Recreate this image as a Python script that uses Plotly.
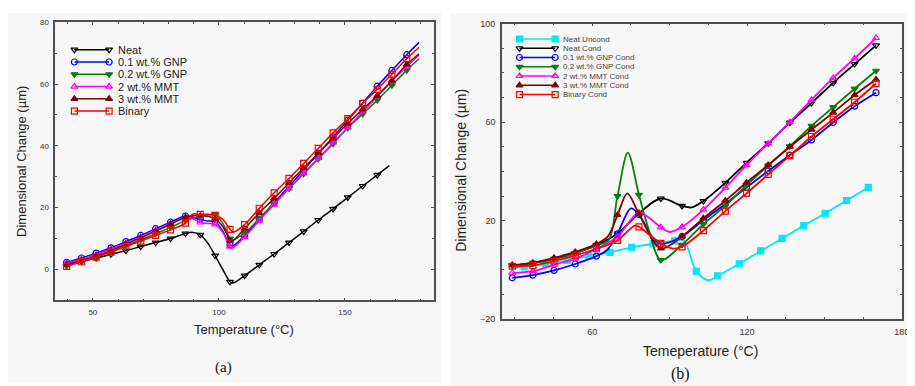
import plotly.graph_objects as go

W, H = 915, 386

# ---------------- Panel (a) data ----------------
A_MARK_T = [39.6, 45.5, 51.3, 57.2, 63.1, 69.0, 74.9, 80.8, 86.7, 92.6, 98.5, 104.4,
            110.2, 116.0, 121.9, 127.8, 133.6, 139.4, 145.3, 151.1, 157.0, 162.8, 168.6, 174.5]

A_NEAT = [1.3, 2.5, 3.7, 4.9, 6.1, 7.4, 8.7, 10.0, 11.6, 11.2, 4.5, -4.0,
          -2.0, 1.5, 5.0, 8.7, 12.3, 16.0, 19.6, 23.3, 27.0, 30.6]
A_NEAT_KT = [89.6, 95.5, 101.5, 105.5, 167.6]
A_NEAT_KV = [12.0, 8.6, 0.0, -4.4, 33.6]

A_GNP01 = [2.3, 3.7, 5.3, 7.0, 9.0, 11.0, 13.2, 15.3, 17.3, 16.2, 15.5, 8.0,
           11.0, 16.3, 21.6, 26.9, 32.2, 37.5, 42.9, 48.3, 53.8, 59.3, 64.4, 69.5]
A_GNP01_KT = [95.5, 101.5, 105.5, 179.4]
A_GNP01_KV = [15.7, 12.5, 7.6, 73.5]

A_GNP02 = [1.3, 2.7, 4.2, 5.8, 7.7, 9.6, 11.6, 13.6, 15.8, 17.2, 17.8, 10.0,
           11.8, 16.5, 21.4, 26.2, 31.0, 35.8, 40.7, 45.8, 50.3, 54.8, 59.6, 64.5]
A_GNP02_KT = [95.5, 101.5, 105.2, 179.4]
A_GNP02_KV = [17.6, 15.0, 9.5, 68.2]

A_MMT2 = [2.0, 3.3, 4.8, 6.6, 8.5, 10.5, 12.6, 14.7, 16.8, 15.2, 14.6, 7.4,
          10.5, 15.8, 21.0, 26.2, 31.2, 36.0, 41.0, 46.0, 51.0, 56.0, 61.0, 65.6]
A_MMT2_KT = [89.5, 95.5, 101.5, 105.2, 179.4]
A_MMT2_KV = [16.5, 14.9, 12.0, 6.9, 69.4]

A_MMT3 = [1.6, 2.9, 4.4, 6.1, 8.2, 10.2, 12.4, 14.6, 16.9, 17.4, 16.4, 9.3,
          13.2, 18.3, 23.0, 28.0, 32.8, 37.6, 42.4, 47.3, 51.8, 56.2, 61.1, 66.3]
A_MMT3_KT = [89.6, 95.5, 101.5, 105.0, 179.4]
A_MMT3_KV = [17.4, 17.2, 14.0, 9.0, 69.8]

A_BIN = [1.0, 2.5, 4.0, 5.6, 7.4, 9.2, 11.0, 12.8, 15.0, 17.8, 17.5, 13.0,
         14.5, 19.8, 24.8, 29.5, 34.3, 39.2, 44.2, 48.8, 53.7, 58.3, 63.2, 68.2]
A_BIN_KT = [89.6, 95.5, 101.5, 105.8, 179.4]
A_BIN_KV = [17.9, 17.9, 16.3, 12.1, 71.9]

A_NAMES = ["Neat", "0.1 wt.% GNP", "0.2 wt.% GNP", "2 wt.% MMT", "3 wt.% MMT", "Binary"]

# ---------------- Panel (b) data ----------------
B_MARK_T = [29.0, 37.0, 45.2, 53.4, 61.6, 69.8, 78.1, 86.6, 94.8, 103.1, 111.6,
            119.8, 128.2, 136.6, 145.0, 153.4, 161.7, 170.0]
B_UNC_T = [33.6, 41.9, 50.3, 58.6, 66.9, 75.3, 83.6, 91.9, 100.3, 108.6, 117.0,
           125.3, 133.6, 142.0, 150.3, 158.6, 167.0]

B_UNC = [1.2, 2.4, 3.9, 5.6, 7.1, 9.2, 10.6, 11.8, -0.5, -2.4, 2.5,
         7.7, 12.8, 18.0, 23.0, 28.2, 33.5]
B_UNC_KT = [29.0, 95.5, 105.0]
B_UNC_KV = [0.6, 11.9, -4.2]

B_NEAT = [1.8, 2.9, 4.5, 6.8, 10.0, 14.8, 23.0, 29.0, 26.0, 28.0, 35.4,
          43.5, 51.4, 59.8, 67.8, 76.0, 83.6, 91.2]
B_NEAT_KT = [98.5]
B_NEAT_KV = [25.4]

B_GNP01 = [-3.2, -2.1, -0.2, 2.4, 5.6, 14.7, 22.4, 10.6, 13.6, 20.2, 26.8,
           33.5, 40.2, 46.6, 52.8, 59.9, 66.5, 72.0]
B_GNP01_KT = [66.0, 75.0, 83.5]
B_GNP01_KV = [8.3, 25.0, 13.0]

B_GNP02 = [1.8, 2.8, 4.4, 6.8, 10.0, 30.0, 30.5, 4.0, 10.2, 18.6, 26.0,
           34.4, 42.4, 50.2, 58.5, 66.1, 73.6, 80.9]
B_GNP02_KT = [66.3, 73.8, 82.0]
B_GNP02_KV = [12.0, 47.6, 16.0]

B_MMT2 = [-1.2, -0.5, 2.1, 4.6, 8.5, 13.5, 23.2, 17.3, 17.4, 24.5, 33.4,
          42.6, 51.3, 60.0, 69.1, 78.0, 85.9, 94.2]
B_MMT2_KT = [90.0]
B_MMT2_KV = [15.4]

B_MMT3 = [2.0, 2.9, 4.9, 7.3, 10.5, 22.3, 22.8, 8.7, 13.6, 21.0, 28.1,
          35.5, 42.6, 50.0, 57.0, 63.9, 71.0, 77.3]
B_MMT3_KT = [66.0, 73.6]
B_MMT3_KV = [13.5, 31.1]

B_BIN = [1.5, 1.8, 3.6, 5.9, 8.6, 12.0, 17.5, 10.8, 9.4, 16.0, 23.9,
         31.1, 38.8, 46.4, 54.2, 61.2, 68.1, 75.7]
B_BIN_KT = [76.5, 91.0]
B_BIN_KV = [18.0, 8.7]

B_NAMES = ["Neat Uncond", "Neat Cond", "0.1 wt.% GNP Cond", "0.2 wt.% GNP Cond",
           "2 wt.% MMT Cond", "3 wt.% MMT Cond", "Binary Cond"]

# ---------------- styles ----------------
COL = dict(black="#000000", blue="#0000ff", green="#0a7d0a", magenta="#ff00ff",
           maroon="#800000", red="#ff0000", cyan="#00e8f0")
FONT = "Arial, Liberation Sans, sans-serif"
FRAME = "#505050"

fig = go.Figure()


def merged(mt, mv, kt, kv):
    pts = sorted(list(zip(mt, mv)) + list(zip(kt, kv)))
    return [p[0] for p in pts], [p[1] for p in pts]


def add_series(mt, mv, kt, kv, color, symbol, xa, ya, lw, ms):
    lx, ly = merged(mt[:len(mv)], mv, kt, kv)
    fig.add_trace(go.Scatter(x=lx, y=ly, mode="lines", xaxis=xa, yaxis=ya,
                             line=dict(color=color, width=lw, shape="spline", smoothing=0.9),
                             showlegend=False, hoverinfo="skip"))
    fig.add_trace(go.Scatter(x=mt[:len(mv)], y=mv, mode="markers", xaxis=xa, yaxis=ya,
                             marker=dict(symbol=symbol, size=ms, color=color,
                                         line=dict(color=color, width=1.2)),
                             showlegend=False))


A_STYLE = [("black", "triangle-down-open"), ("blue", "circle-open"), ("green", "triangle-down"),
           ("magenta", "triangle-up-open"), ("maroon", "triangle-up"), ("red", "square-open")]
A_SERIES = [(A_NEAT, A_NEAT_KT, A_NEAT_KV), (A_GNP01, A_GNP01_KT, A_GNP01_KV),
            (A_GNP02, A_GNP02_KT, A_GNP02_KV), (A_MMT2, A_MMT2_KT, A_MMT2_KV),
            (A_MMT3, A_MMT3_KT, A_MMT3_KV), (A_BIN, A_BIN_KT, A_BIN_KV)]
for (v, kt, kv), (c, s) in zip(A_SERIES, A_STYLE):
    add_series(A_MARK_T, v, kt, kv, COL[c], s, "x", "y", 1.5, 6)

B_STYLE = [("cyan", "square"), ("black", "triangle-down-open"), ("blue", "circle-open"),
           ("green", "triangle-down"), ("magenta", "triangle-up-open"),
           ("maroon", "triangle-up"), ("red", "square-open")]
B_SERIES = [(B_UNC_T, B_UNC, B_UNC_KT, B_UNC_KV), (B_MARK_T, B_NEAT, B_NEAT_KT, B_NEAT_KV),
            (B_MARK_T, B_GNP01, B_GNP01_KT, B_GNP01_KV), (B_MARK_T, B_GNP02, B_GNP02_KT, B_GNP02_KV),
            (B_MARK_T, B_MMT2, B_MMT2_KT, B_MMT2_KV), (B_MARK_T, B_MMT3, B_MMT3_KT, B_MMT3_KV),
            (B_MARK_T, B_BIN, B_BIN_KT, B_BIN_KV)]
for (t, v, kt, kv), (c, s) in zip(B_SERIES, B_STYLE):
    add_series(t, v, kt, kv, COL[c], s, "x2", "y2", 1.8, 6)

# ---------------- custom legends (pixel overlay axis) ----------------
annotations = []


def legend(names, styles, x0, x1, xt, ytop, dy, fsize, ms, lw, fcol):
    for i, (name, (c, s)) in enumerate(zip(names, styles)):
        yy = ytop + i * dy
        fig.add_trace(go.Scatter(x=[x0, x1], y=[yy, yy], mode="lines+markers",
                                 xaxis="x3", yaxis="y3", cliponaxis=False,
                                 line=dict(color=COL[c], width=lw),
                                 marker=dict(symbol=s, size=ms, color=COL[c],
                                             line=dict(color=COL[c], width=1.2)),
                                 showlegend=False, hoverinfo="skip"))
        annotations.append(dict(x=xt / W, y=1 - yy / H, xref="paper", yref="paper",
                                text=name, showarrow=False, xanchor="left", yanchor="middle",
                                font=dict(family=FONT, size=fsize, color=fcol)))


legend(A_NAMES, A_STYLE, 67, 102, 109, 37.7, 12.6, 11, 6, 1.5, "#222222")
legend(B_NAMES, B_STYLE, 516, 552, 558, 26.7, 9.5, 8, 6, 1.5, "#444444")

# ---------------- axis titles and panel labels ----------------
def ann(x, y, text, size, angle=0, family=FONT, color="#222222"):
    annotations.append(dict(x=x / W, y=1 - y / H, xref="paper", yref="paper", text=text,
                            showarrow=False, textangle=angle, xanchor="center", yanchor="middle",
                            font=dict(family=family, size=size, color=color)))


ann(238, 325, "Temperature (°C)", 13)
ann(13, 152, "Dimensional Change (µm)", 13, -90)
ann(699, 347, "Temeperature (°C)", 14)
ann(457, 162, "Dimensional Change (µm)", 14, -90)
ann(217, 364, "(a)", 15, family="Liberation Serif, Times New Roman, serif", color="#111111")
ann(678, 371, "(b)", 16, family="Liberation Serif, Times New Roman, serif", color="#111111")


def axis(domain, rng, dtick, minor, fsize, tick0=0, **kw):
    d = dict(domain=domain, range=rng, dtick=dtick, tick0=tick0, ticks="inside", ticklen=3,
             tickcolor=FRAME, showline=True, linecolor=FRAME, linewidth=1.5,
             mirror="allticks", showgrid=False, zeroline=False,
             minor=dict(dtick=minor, tick0=0, ticks="inside", ticklen=2, tickcolor=FRAME,
                        showgrid=False),
             tickfont=dict(family=FONT, size=fsize, color="#333333"),
             ticklabelstandoff=3, fixedrange=True)
    d.update(kw)
    return d


fig.update_layout(
    width=W, height=H, margin=dict(l=0, r=0, t=0, b=0),
    paper_bgcolor="white", plot_bgcolor="rgba(0,0,0,0)", showlegend=False,
    xaxis=axis([47.7 / W, 430 / W], [35.1, 185.4], 50, 10, 8, anchor="y"),
    yaxis=axis([1 - 295 / H, 1 - 9.5 / H], [-10, 80], 20, 10, 8, anchor="x"),
    xaxis2=axis([498.3 / W, 901.7 / W], [25, 180], 60, 15, 9, anchor="y2"),
    yaxis2=axis([1 - 314.3 / H, 1 - 11 / H], [-20, 100], 40, 10, 9, tick0=-20, anchor="x2"),
    xaxis3=dict(domain=[0, 1], range=[0, W], visible=False, fixedrange=True, anchor="y3"),
    yaxis3=dict(domain=[0, 1], range=[H, 0], visible=False, fixedrange=True, anchor="x3"),
    shapes=[
        dict(type="rect", xref="paper", yref="paper", x0=0, x1=437 / W, y0=1 - 380 / H, y1=1,
             fillcolor="#f7f7f7", line=dict(width=0), layer="below"),
        dict(type="rect", xref="paper", yref="paper", x0=446 / W, x1=1, y0=0, y1=1,
             fillcolor="#f7f7f7", line=dict(width=0), layer="below"),
    ],
    annotations=annotations,
)

fig.write_html("out.html")
